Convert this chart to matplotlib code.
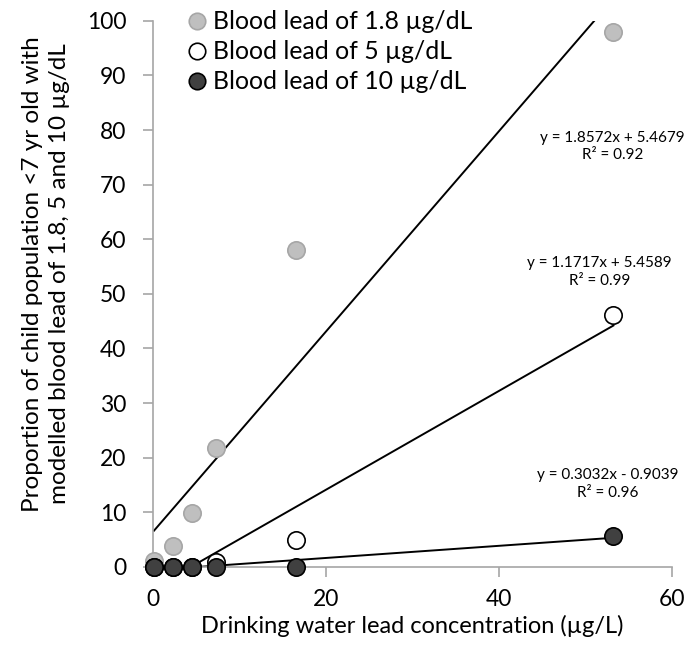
import numpy as np
import matplotlib.pyplot as plt

plt.rcParams['font.family'] = ['Lato', 'DejaVu Sans']

# Drinking water lead (ug/L) and % of children above each blood lead level
water_lead = [0.15, 2.3, 4.5, 7.3, 16.5, 53.2]
pct_18 = [1.0, 3.8, 9.8, 21.8, 58.0, 97.9]
pct_5 = [0.0, 0.0, 0.0, 0.8, 5.0, 46.2]
pct_10 = [0.0, 0.0, 0.0, 0.0, 0.0, 5.7]

series_labels = ["Blood lead of 1.8 µg/dL", "Blood lead of 5 µg/dL", "Blood lead of 10 µg/dL"]
eq_texts = ["y = 1.8572x + 5.4679\nR² = 0.92",
            "y = 1.1717x + 5.4589\nR² = 0.99",
            "y = 0.3032x - 0.9039\nR² = 0.96"]
eq_pos = [(53.1, 77.0), (51.6, 54.0), (52.5, 15.1)]

styles = [
    dict(mfc='#BFBFBF', mec='#A6A6A6'),
    dict(mfc='white', mec='black'),
    dict(mfc='#404040', mec='black'),
]

fig = plt.figure(figsize=(6.91, 6.53), dpi=100)
ax = fig.add_axes([0.221, 0.132, 0.752, 0.836])

x = np.array(water_lead)
handles = []
for ys, st, lab in zip([pct_18, pct_5, pct_10], styles, series_labels):
    h, = ax.plot(x, ys, 'o', ms=12.5, mew=1.2, label=lab, zorder=3, clip_on=False, **st)
    handles.append(h)

# linear trendlines over the data range
for ys in [pct_18, pct_5, pct_10]:
    m, b = np.polyfit(x, ys, 1)
    xx = np.array([x.min(), x.max()])
    ax.plot(xx, m * xx + b, color='black', lw=1.4, zorder=2)

for txt, (tx, ty) in zip(eq_texts, eq_pos):
    ax.text(tx, ty, txt, ha='center', va='center', fontsize=11, linespacing=1.35)

ax.set_xlim(0, 60)
ax.set_ylim(0, 100)
ax.set_xticks([0, 20, 40, 60])
ax.set_yticks(range(0, 101, 10))
for s in ['top', 'right']:
    ax.spines[s].set_visible(False)
for s in ['left', 'bottom']:
    ax.spines[s].set_color('#A6A6A6')
    ax.spines[s].set_linewidth(1.2)
ax.tick_params(colors='#A6A6A6', labelcolor='black', labelsize=16.5, length=7, width=1.2, direction='out')
ax.tick_params(axis='y', pad=12)
ax.tick_params(axis='x', pad=9)

ax.set_xlabel("Drinking water lead concentration (µg/L)", fontsize=17, va='center')
ax.xaxis.set_label_coords(0.5, -0.108)
ax.set_ylabel("Proportion of child population <7 yr old with\nmodelled blood lead of 1.8, 5 and 10 µg/dL",
              fontsize=17.5, linespacing=1.3)
ax.yaxis.set_label_coords(-0.16, 0.537)

fig.legend(handles=handles, loc='upper left', bbox_to_anchor=(0.232, 1.018), frameon=False,
           fontsize=17.8, handletextpad=0.05, labelspacing=0.28, markerscale=0.95, handlelength=1.2)

fig.savefig("out.png", dpi=100)
